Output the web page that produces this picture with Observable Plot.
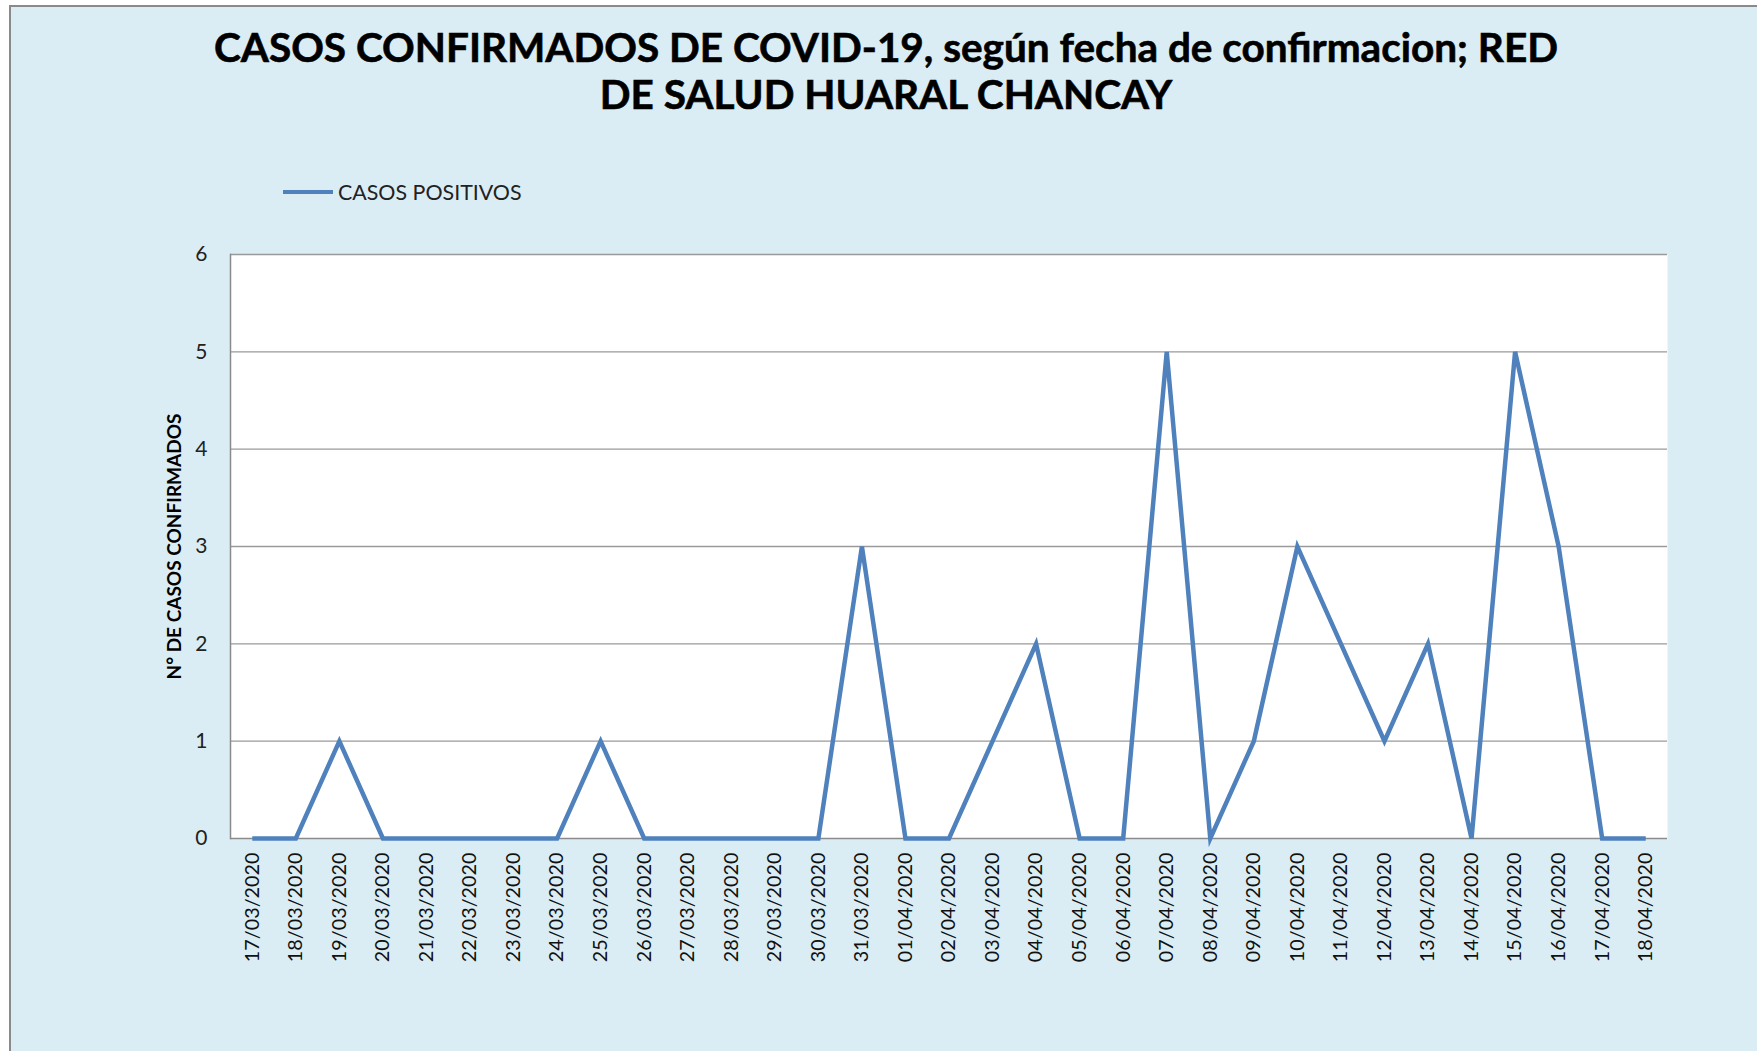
<!DOCTYPE html>
<html>
<head>
<meta charset="utf-8">
<script src="https://cdn.jsdelivr.net/npm/d3@7"></script>
<script src="https://cdn.jsdelivr.net/npm/@observablehq/plot@0.6"></script>
<style>
  html, body { margin: 0; padding: 0; background: #ffffff; }
  #wrap { position: relative; width: 1757px; height: 1051px; overflow: hidden; font-family: Lato, "Open Sans", sans-serif; }
  #bg { position: absolute; left: 9px; top: 5px; right: -4px; bottom: -4px; background: #DBEDF4; border-left: 2px solid #8a8a8a; border-top: 2px solid #8a8a8a; }
  #title { position: absolute; left: 136px; width: 1500px; top: 23px; text-align: center; font-weight: bold; font-size: 40.5px; line-height: 47px; color: #000; -webkit-text-stroke: 0.6px #000; }
  #legend { position: absolute; left: 283px; top: 179px; display: flex; align-items: center; font-size: 21.4px; color: #222; }
  #legend .sw { width: 50px; height: 4px; background: #4F81BD; margin-right: 5px; }
  #chart { position: absolute; left: 0; top: 200px; }
</style>
</head>
<body>
<div id="wrap">
  <div id="bg"></div>
  <div id="title">CASOS CONFIRMADOS DE COVID-19, según fecha de confirmacion; RED<br>DE SALUD HUARAL CHANCAY</div>
  <div id="legend"><div class="sw"></div><span>CASOS POSITIVOS</span></div>
  <div id="chart"></div>
</div>
<script>
const fechas = [
  "17/03/2020","18/03/2020","19/03/2020","20/03/2020","21/03/2020","22/03/2020","23/03/2020",
  "24/03/2020","25/03/2020","26/03/2020","27/03/2020","28/03/2020","29/03/2020","30/03/2020",
  "31/03/2020","01/04/2020","02/04/2020","03/04/2020","04/04/2020","05/04/2020","06/04/2020",
  "07/04/2020","08/04/2020","09/04/2020","10/04/2020","11/04/2020","12/04/2020","13/04/2020",
  "14/04/2020","15/04/2020","16/04/2020","17/04/2020","18/04/2020"
];
const casos = [
  0,0,1,0,0,0,0,
  0,1,0,0,0,0,0,
  3,0,0,1,2,0,0,
  5,0,1,3,2,1,2,
  0,5,3,0,0
];
const yTicks = [0,1,2,3,4,5,6];
const serieNombre = "CASOS POSITIVOS";
const yTitulo = "N° DE CASOS CONFIRMADOS";

const data = fechas.map((f, i) => ({fecha: f, casos: casos[i]}));

const chart = Plot.plot({
  width: 1757,
  height: 851,
  marginLeft: 230,
  marginRight: 90,
  marginTop: 54,
  marginBottom: 213,
  style: {background: "transparent", fontFamily: "Lato, 'Open Sans', sans-serif"},
  x: {type: "point", domain: fechas, padding: 0.5, round: false},
  y: {domain: [0, 6]},
  marks: [
    Plot.frame({fill: "white", stroke: null}),
    Plot.ruleY(yTicks.filter(d => d > 0), {stroke: "#9a9a9a", strokeWidth: 1.3}),
    Plot.ruleY([0], {stroke: "#8a8a8a", strokeWidth: 1.5}),
    Plot.frame({anchor: "left", stroke: "#8a8a8a", strokeWidth: 1.5}),
    Plot.axisY({ticks: yTicks, tickSize: 0, tickPadding: 23, label: null, fontSize: 21, color: "#222", tickFormat: d3.format("d")}),
    Plot.axisX({tickSize: 0, tickPadding: 14, tickRotate: -90, label: null, fontSize: 19.8, color: "#111"}),
    Plot.text([yTitulo], {frameAnchor: "left", dx: -56, rotate: -90, textAnchor: "middle", fontWeight: "bold", fontSize: 19, fill: "#000"}),
    Plot.line(data, {x: "fecha", y: "casos", stroke: "#4F81BD", strokeWidth: 4.5, strokeLinejoin: "miter", strokeLinecap: "butt", strokeMiterlimit: 6})
  ]
});
document.getElementById("chart").appendChild(chart);
</script>
</body>
</html>
